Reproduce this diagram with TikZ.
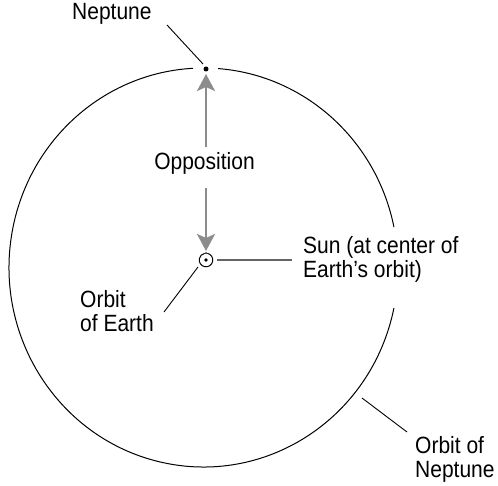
\documentclass[tikz,border=0pt]{standalone}
\usepackage{fontspec}
\usepackage{graphicx}
\setmainfont{Liberation Sans}
\usetikzlibrary{arrows.meta}
\definecolor{arrowgray}{RGB}{140,140,140}
\definecolor{linegray}{RGB}{100,100,100}
\newcommand{\talltext}[1]{\scalebox{1}[1.12]{\begin{tabular}{@{}l@{}}#1\end{tabular}}}
\tikzset{
  lbl/.style={font=\fontsize{21}{22.3}\selectfont, inner sep=0pt, anchor=west},
  leader/.style={line width=0.9pt, black},
  opparrow/.style={line width=2.6pt, arrowgray, -{Stealth[length=17pt,width=18pt,inset=4pt]}},
  orbit/.style={line width=1pt, black}
}
\begin{document}
\begin{tikzpicture}[x=1pt,y=-1pt]
\useasboundingbox (0,0) rectangle (498,486);
% orbit of Neptune (with gaps)
\coordinate (C) at (203.5,267.5);
\draw[orbit] (C) ++(-85.7:194.5 and 199.5) arc[start angle=-85.7, end angle=-11.7, x radius=194.5, y radius=199.5];
\draw[orbit] (C) ++(11.7:194.5 and 199.5) arc[start angle=11.7, end angle=266.9, x radius=194.5, y radius=199.5];
% Neptune
\node[circle, fill=black, inner sep=0pt, minimum size=5pt] (nep) at (206,69) {};
\node[lbl] (neplbl) at (72,15) {\talltext{Neptune}};
\coordinate (nepA) at (167,25);
\coordinate (nepB) at (203,64);
\draw[leader] (nepA) -- (nepB);
% Sun and orbit of Earth
\node[circle, fill=black, inner sep=0pt, minimum size=3.6pt] (sun) at (206,260) {};
\draw[line width=1pt] (sun.center) ++(-78:6.8) arc[start angle=-78, end angle=258, radius=6.8];
\node[circle, fill=black, inner sep=0pt, minimum size=2pt] (earth) at (206,253.2) {};
% Opposition
\node[lbl, anchor=center] (opp) at (204.5,165) {\talltext{Opposition}};
\coordinate (upS) at (206,147);
\coordinate (upE) at (206,74);
\coordinate (dnS) at (206,188);
\coordinate (dnE) at (206,251);
\draw[opparrow] (upS) -- (upE);
\draw[opparrow] (dnS) -- (dnE);
% Sun label
\coordinate (sunA) at (217,260);
\coordinate (sunB) at (292,260);
\draw[line width=1.2pt, linegray] (sunA) -- (sunB);
\node[lbl] (sunlbl) at (303,260.5) {\talltext{Sun (at center of\\Earth’s orbit)}};
% Orbit of Earth label
\coordinate (oeA) at (198,267);
\coordinate (oeB) at (164,312);
\draw[leader] (oeA) -- (oeB);
\node[lbl] (oelbl) at (80,314.5) {\talltext{Orbit\\of Earth}};
% Orbit of Neptune label
\coordinate (onA) at (362,398);
\coordinate (onB) at (407,432);
\draw[leader] (onA) -- (onB);
\node[lbl] (onlbl) at (415,460.5) {\talltext{Orbit of\\Neptune}};
\end{tikzpicture}
\end{document}
